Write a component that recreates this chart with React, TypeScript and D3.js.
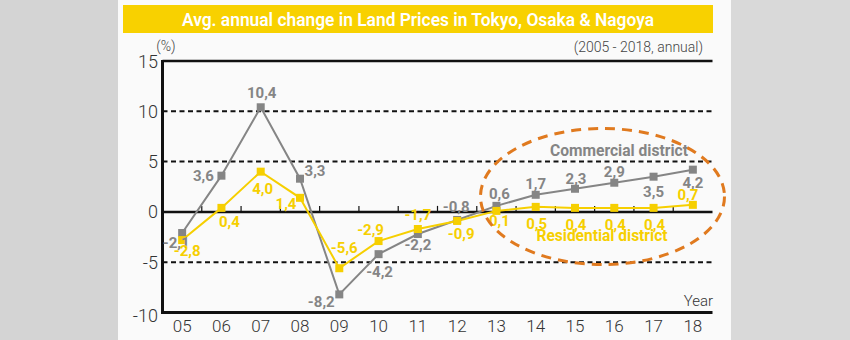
import React from "react";
import * as d3 from "d3";

const years = ["05", "06", "07", "08", "09", "10", "11", "12", "13", "14", "15", "16", "17", "18"];
const commercial = [-2.1, 3.6, 10.4, 3.3, -8.2, -4.2, -2.2, -0.8, 0.6, 1.7, 2.3, 2.9, 3.5, 4.2];
const residential = [-2.8, 0.4, 4.0, 1.4, -5.6, -2.9, -1.7, -0.9, 0.1, 0.5, 0.4, 0.4, 0.4, 0.7];
const yTicks = [15, 10, 5, 0, -5, -10];
const dashedTicks = [10, 5, -5];

// label placement (dx, dy relative to the marker)
const comLabelDx = [-6, -18, 1, 15, -18, 1, 0, -1, 3, 0, 1, 0, 0, 0];
const comLabelDy = [15, 5, -9, -3, 13, 23, 16, -8, -7, -6, -5, -6, 20, 18];
const resLabelDx = [5, 8, 2, -14, 5, -8, 0, 4, 3, 1, 1, 1, 1, -5];
const resLabelDy = [16, 19, 22, 11, -15, -6, -9, 18, 15, 22, 22, 22, 22, -5];

const W = 850;
const H = 340;
const M = { left: 162.5, right: 712.5, top: 61, bottom: 312.5 };
const GRAY = "#858585";
const YEL = "#f6cf00";
const fmt = (v: number) => v.toFixed(1).replace(".", ",");

export default function App() {
  const x = d3.scaleBand<string>().domain(years).range([M.left, M.right]);
  const y = d3.scaleLinear().domain([-10, 15]).range([M.bottom, M.top]);
  const cx = (i: number) => (x(years[i]) as number) + x.bandwidth() / 2;
  const line = d3
    .line<number>()
    .x((_, i) => cx(i))
    .y((d) => y(d));
  const font = "Roboto, 'Noto Sans', sans-serif";
  const boundaries = years.slice(1).map((yr) => x(yr) as number);

  return (
    <div style={{ position: "fixed", left: 0, top: 0 }}>
      <svg width={W} height={H} style={{ display: "block", fontFamily: font }}>
        <rect x={0} y={0} width={W} height={H} fill="#d9d9d9" />
        <rect x={0} y={0} width={118} height={H} fill="#d4d4d4" />
        <rect x={118} y={0} width={613} height={H} fill="#fafafa" />
        <rect x={123} y={5} width={590} height={28} fill="#f8d100" />
        <text
          x={418}
          y={25.5}
          textAnchor="middle"
          fill="#ffffff"
          fontSize={17.5}
          fontWeight={600}
          textLength={472}
          lengthAdjust="spacingAndGlyphs"
        >
          Avg. annual change in Land Prices in Tokyo, Osaka &amp; Nagoya
        </text>
        <text x={166} y={51} textAnchor="middle" fill="#444" fontSize={14} fontWeight={300}>
          (%)
        </text>
        <text x={703} y={52} textAnchor="end" fill="#444" fontSize={14} fontWeight={300}>
          (2005 - 2018, annual)
        </text>

        {/* dashed grid */}
        {dashedTicks.map((t) => (
          <line
            key={t}
            x1={M.left}
            x2={M.right}
            y1={y(t)}
            y2={y(t)}
            stroke="#111"
            strokeWidth={2}
            strokeDasharray="5,3.5"
          />
        ))}
        {/* frame */}
        <line x1={M.left} x2={M.right} y1={y(15)} y2={y(15)} stroke="#111" strokeWidth={2.5} />
        <line x1={M.left} x2={M.right} y1={y(-10)} y2={y(-10)} stroke="#111" strokeWidth={3} />
        <line x1={M.left} x2={M.left} y1={y(15) - 1} y2={y(-10) + 1.5} stroke="#111" strokeWidth={3} />
        <line x1={M.left} x2={M.right} y1={y(0)} y2={y(0)} stroke="#111" strokeWidth={2.5} />
        {boundaries.map((b, i) => (
          <line key={i} x1={b} x2={b} y1={y(0)} y2={y(0) - 6} stroke="#111" strokeWidth={1.2} />
        ))}

        {/* y tick labels */}
        {yTicks.map((t) => (
          <text
            key={t}
            x={158}
            y={y(t) + (t === -10 ? 9 : 6.5)}
            textAnchor="end"
            fill="#333"
            fontSize={18}
            fontWeight={300}
          >
            {t}
          </text>
        ))}
        {/* x labels */}
        {years.map((yr, i) => (
          <text
            key={yr}
            x={cx(i)}
            y={332}
            textAnchor="middle"
            fill="#333"
            fontSize={17}
            fontWeight={300}
          >
            {yr}
          </text>
        ))}
        <text x={713} y={306} textAnchor="end" fill="#333" fontSize={15} fontWeight={300}>
          Year
        </text>

        {/* series lines */}
        <path d={line(commercial) as string} fill="none" stroke={GRAY} strokeWidth={2} />
        <path d={line(residential) as string} fill="none" stroke={YEL} strokeWidth={2} />
        {commercial.map((v, i) => (
          <rect key={"c" + i} x={cx(i) - 4} y={y(v) - 4} width={8} height={8} fill={GRAY} />
        ))}
        {residential.map((v, i) => (
          <rect key={"r" + i} x={cx(i) - 4} y={y(v) - 4} width={8} height={8} fill={YEL} />
        ))}

        {/* value labels */}
        {commercial.map((v, i) => (
          <text
            key={"cl" + i}
            x={cx(i) + comLabelDx[i]}
            y={y(v) + comLabelDy[i]}
            textAnchor="middle"
            fill={GRAY}
            fontSize={15}
            fontWeight={700}
          >
            {fmt(v)}
          </text>
        ))}
        {residential.map((v, i) => (
          <text
            key={"rl" + i}
            x={cx(i) + resLabelDx[i]}
            y={y(v) + resLabelDy[i]}
            textAnchor="middle"
            fill={YEL}
            fontSize={15}
            fontWeight={700}
          >
            {fmt(v)}
          </text>
        ))}

        {/* annotations */}
        <text
          x={619}
          y={156}
          textAnchor="middle"
          fill={GRAY}
          fontSize={16}
          fontWeight={700}
          textLength={138}
          lengthAdjust="spacingAndGlyphs"
        >
          Commercial district
        </text>
        <text
          x={602}
          y={241}
          textAnchor="middle"
          fill={YEL}
          fontSize={16}
          fontWeight={700}
          textLength={131}
          lengthAdjust="spacingAndGlyphs"
        >
          Residential district
        </text>
        <ellipse
          cx={602.5}
          cy={196.5}
          rx={122}
          ry={68}
          fill="none"
          stroke="#e07a1f"
          strokeWidth={3}
          strokeDasharray="10,7"
        />
      </svg>
    </div>
  );
}
